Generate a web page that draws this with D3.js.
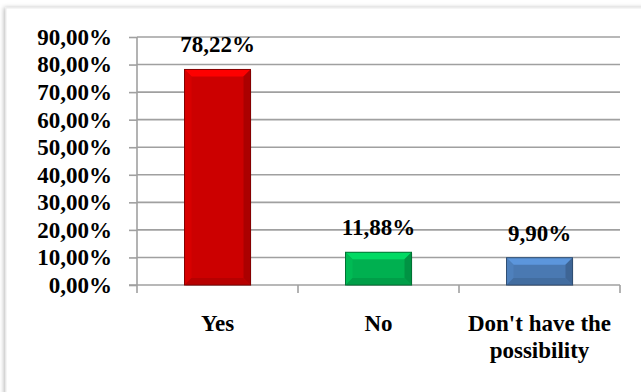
<!DOCTYPE html>
<html>
<head>
<meta charset="utf-8">
<script src="https://cdn.jsdelivr.net/npm/d3@7"></script>
<style>
  html, body { margin: 0; padding: 0; background: #ffffff; }
  svg { display: block; }
</style>
</head>
<body>
<svg id="chart" width="641" height="392"></svg>
<script>
// Survey answers and their shares (percent)
const categories = ["Yes", "No", "Don't have the possibility"];
const values = [78.22, 11.88, 9.90];
const barColors = ["#cc0000", "#00b050", "#4a79b2"];
const yTicks = [0, 10, 20, 30, 40, 50, 60, 70, 80, 90];

const FONT = "'Liberation Serif', 'Times New Roman', Tinos, 'DejaVu Serif', serif";

const svg = d3.select("#chart");
const W = 641, H = 392;
const margin = { top: 37, right: 21, bottom: 107, left: 137 };

const defs = svg.append("defs");
const shadow = defs.append("filter").attr("id", "frameShadow")
  .attr("x", "-5%").attr("y", "-5%").attr("width", "110%").attr("height", "110%");
shadow.append("feDropShadow").attr("dx", -1.5).attr("dy", 0)
  .attr("stdDeviation", 2).attr("flood-color", "#000").attr("flood-opacity", 0.28);

// chart frame
svg.append("rect")
  .attr("x", 6).attr("y", 8).attr("width", 700).attr("height", 500)
  .attr("fill", "#fff").attr("stroke", "#ececec").attr("stroke-width", 1)
  .attr("filter", "url(#frameShadow)");

const x = d3.scaleBand().domain(categories)
  .range([margin.left, W - margin.right]).paddingInner(0).paddingOuter(0);
const y = d3.scaleLinear().domain([0, 90]).range([H - margin.bottom, margin.top]);

const fontSize = 23;
const styleText = sel => sel.style("font-family", FONT).style("font-weight", "bold")
  .style("font-size", fontSize + "px").style("fill", "#000");

// horizontal gridlines
svg.append("g").selectAll("line").data(yTicks.filter(d => d > 0)).join("line")
  .attr("x1", margin.left).attr("x2", W - margin.right)
  .attr("y1", d => y(d)).attr("y2", d => y(d))
  .attr("stroke", "#a0a0a0").attr("stroke-width", 1.6);

// y axis
const yAxis = svg.append("g").attr("transform", `translate(${margin.left},0)`)
  .call(d3.axisLeft(y).tickValues(yTicks).tickSize(8).tickPadding(17)
    .tickFormat(d => d3.format(".2f")(d).replace(".", ",") + "%"));
yAxis.select(".domain").attr("stroke", "#a0a0a0").attr("stroke-width", 1.6)
  .attr("d", `M0,${y(90)}V${y(0) + 8}`);
yAxis.selectAll(".tick line").attr("stroke", "#a0a0a0").attr("stroke-width", 1.6);
yAxis.selectAll(".tick text").call(styleText);

// x axis baseline and category boundary ticks
const base = y(0);
const gx = svg.append("g");
gx.append("line").attr("x1", margin.left - 8).attr("x2", W - margin.right)
  .attr("y1", base).attr("y2", base).attr("stroke", "#a0a0a0").attr("stroke-width", 1.6);
const bounds = categories.map(c => x(c)).concat([x(categories[categories.length - 1]) + x.bandwidth()]);
gx.selectAll("line.b").data(bounds.slice(1)).join("line").attr("class", "b")
  .attr("x1", d => d).attr("x2", d => d).attr("y1", base).attr("y2", base + 8)
  .attr("stroke", "#a0a0a0").attr("stroke-width", 1.6);

// category labels (wrapped)
const catLines = { "Don't have the possibility": ["Don't have the", "possibility"] };
categories.forEach(c => {
  const lines = catLines[c] || [c];
  const t = svg.append("text").attr("text-anchor", "middle")
    .attr("x", x(c) + x.bandwidth() / 2).attr("y", 331).call(styleText);
  lines.forEach((l, i) => t.append("tspan").attr("x", x(c) + x.bandwidth() / 2)
    .attr("dy", i === 0 ? 0 : 27).text(l));
});

// bars with bevelled edges
const barW = 66;
const bev = 7;
categories.forEach((c, i) => {
  const v = values[i];
  const col = d3.color(barColors[i]);
  const x0 = x(c) + (x.bandwidth() - barW) / 2, x1 = x0 + barW;
  const y0 = y(v), y1 = y(0);
  const b = Math.min(bev, (y1 - y0) / 2);
  const g = svg.append("g");
  // soft shadow behind bar
  g.append("rect").attr("x", x0 + 1).attr("y", y0 + 1).attr("width", barW).attr("height", y1 - y0)
    .attr("fill", "#000").attr("opacity", 0.12);
  g.append("rect").attr("x", x0).attr("y", y0).attr("width", barW).attr("height", y1 - y0)
    .attr("fill", col.formatHex());
  const poly = (pts, fill) => g.append("polygon").attr("points", pts.map(p => p.join(",")).join(" ")).attr("fill", fill);
  // top bevel (light)
  poly([[x0, y0], [x1, y0], [x1 - b, y0 + b], [x0 + b, y0 + b]], col.brighter(0.6).formatHex());
  // left bevel
  poly([[x0, y0], [x0 + b, y0 + b], [x0 + b, y1 - b], [x0, y1]], col.brighter(0.15).formatHex());
  // right bevel (dark)
  poly([[x1, y0], [x1, y1], [x1 - b, y1 - b], [x1 - b, y0 + b]], col.darker(0.5).formatHex());
  // bottom bevel (dark)
  poly([[x0, y1], [x1, y1], [x1 - b, y1 - b], [x0 + b, y1 - b]], col.darker(0.3).formatHex());
  g.append("rect").attr("x", x0).attr("y", y0).attr("width", barW).attr("height", y1 - y0)
    .attr("fill", "none").attr("stroke", col.darker(1.2).formatHex()).attr("stroke-width", 1);

  // value label
  svg.append("text").attr("text-anchor", "middle")
    .attr("x", x(c) + x.bandwidth() / 2).attr("y", y0 - 17)
    .call(styleText)
    .text(d3.format(".2f")(v).replace(".", ",") + "%");
});
</script>
</body>
</html>
